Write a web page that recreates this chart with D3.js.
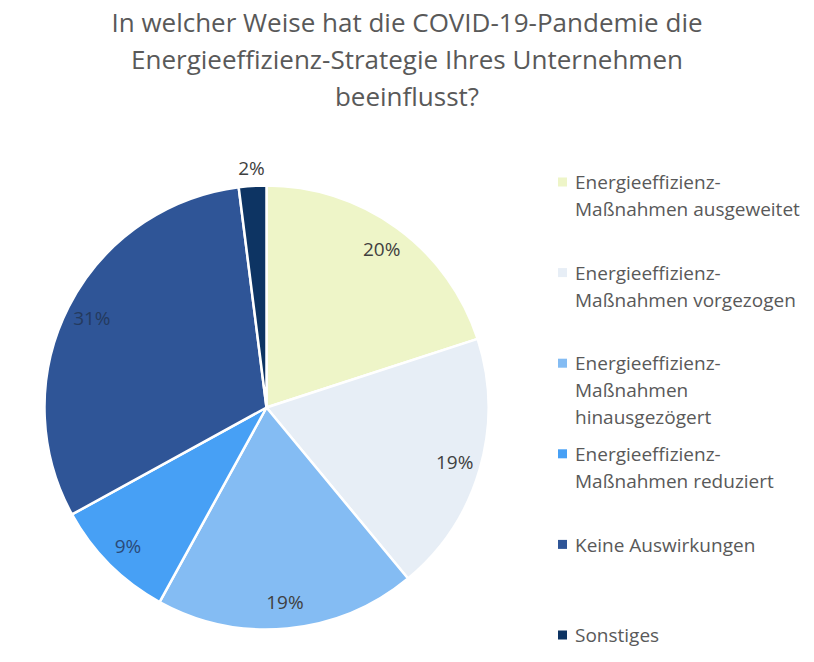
<!DOCTYPE html>
<html>
<head>
<meta charset="utf-8">
<script src="https://cdn.jsdelivr.net/npm/d3@7"></script>
<style>
  body { margin: 0; background: #fff; }
  text { font-family: "Open Sans", sans-serif; }
</style>
</head>
<body>
<div id="chart"></div>
<script>
const titleLines = [
  "In welcher Weise hat die COVID-19-Pandemie die",
  "Energieeffizienz-Strategie Ihres Unternehmen",
  "beeinflusst?"
];

const categories = [
  ["Energieeffizienz-", "Maßnahmen ausgeweitet"],
  ["Energieeffizienz-", "Maßnahmen vorgezogen"],
  ["Energieeffizienz-", "Maßnahmen", "hinausgezögert"],
  ["Energieeffizienz-", "Maßnahmen reduziert"],
  ["Keine Auswirkungen"],
  ["Sonstiges"]
];

const shares = [20, 19, 19, 9, 31, 2];

const sliceColors = ["#eef5c8", "#e7eef6", "#84bcf3", "#47a0f5", "#2f5597", "#0d3463"];

const width = 814;
const height = 662;

const svg = d3.select("#chart")
  .append("svg")
  .attr("width", width)
  .attr("height", height);

// title
svg.append("g")
  .selectAll("text")
  .data(titleLines)
  .enter()
  .append("text")
  .attr("x", 407)
  .attr("y", (d, i) => 32 + i * 37)
  .attr("text-anchor", "middle")
  .attr("font-size", 26)
  .attr("fill", "#595959")
  .text(d => d);

// pie
const cx = 266.5, cy = 407.5, radius = 222;
const color = d3.scaleOrdinal().domain(d3.range(shares.length)).range(sliceColors);

const pie = d3.pie().sort(null).value(d => d);
const arcs = pie(shares);

const arc = d3.arc().innerRadius(0).outerRadius(radius);
const labelArc = d3.arc().innerRadius(196).outerRadius(196);
const outerLabelArc = d3.arc().innerRadius(240).outerRadius(240);

const g = svg.append("g").attr("transform", `translate(${cx},${cy})`);

g.selectAll("path")
  .data(arcs)
  .enter()
  .append("path")
  .attr("d", arc)
  .attr("fill", (d, i) => color(i))
  .attr("stroke", "#fff")
  .attr("stroke-width", 2.5)
  .attr("stroke-linejoin", "round");

g.selectAll("text.pct")
  .data(arcs)
  .enter()
  .append("text")
  .attr("class", "pct")
  .attr("transform", d => `translate(${(d.data < 5 ? outerLabelArc : labelArc).centroid(d)})`)
  .attr("text-anchor", "middle")
  .attr("dy", "0.35em")
  .attr("font-size", 19)
  .attr("fill", (d, i) => i === 4 ? "#243a5e" : (i === 3 ? "#2b4a78" : "#404040"))
  .text(d => d.data + "%");

// legend
const legendY = d3.scalePoint()
  .domain(d3.range(categories.length))
  .range([182, 635]);

const legend = svg.append("g");

const row = legend.selectAll("g")
  .data(categories)
  .enter()
  .append("g")
  .attr("transform", (d, i) => `translate(558,${legendY(i)})`);

row.append("rect")
  .attr("x", 0)
  .attr("y", -4.5)
  .attr("width", 9)
  .attr("height", 9)
  .attr("fill", (d, i) => color(i));

row.selectAll("text")
  .data(d => d)
  .enter()
  .append("text")
  .attr("x", 17)
  .attr("y", (d, i) => i * 27)
  .attr("dy", "0.38em")
  .attr("font-size", 19)
  .attr("fill", "#595959")
  .text(d => d);
</script>
</body>
</html>
